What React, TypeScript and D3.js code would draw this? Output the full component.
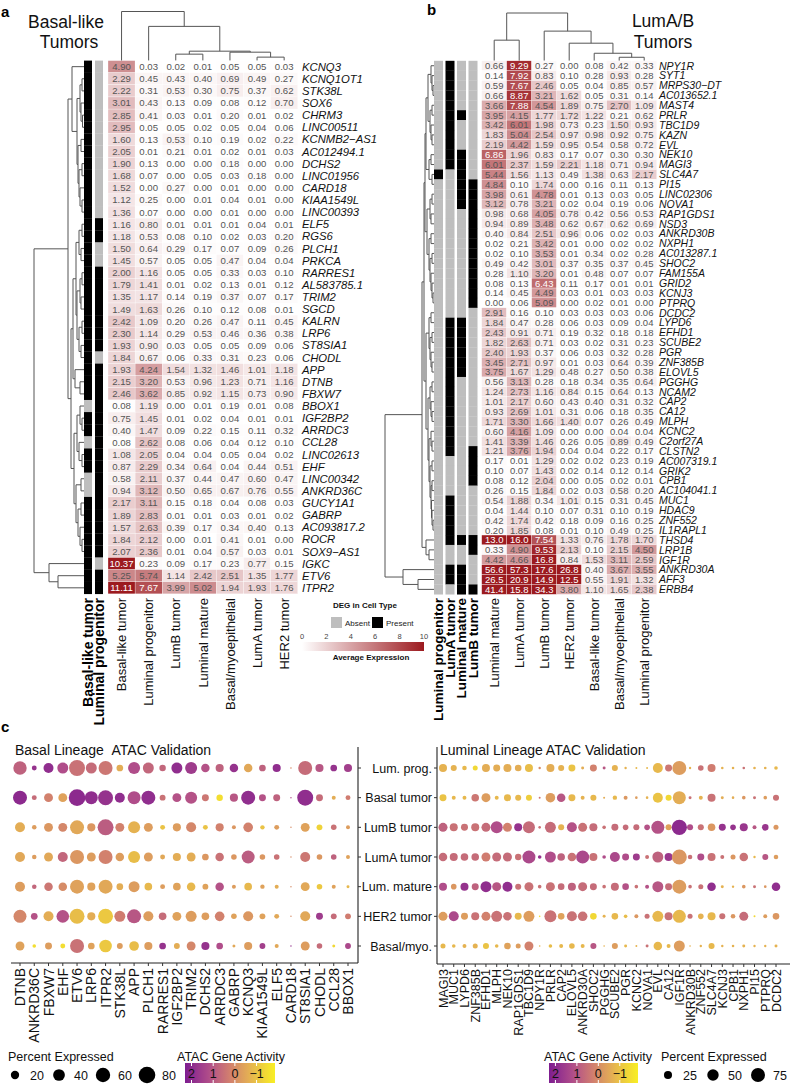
import React from "react";
import * as d3 from "d3";

const FONT = "'Liberation Sans', Arial, Helvetica, sans-serif";

// ================= Panel a : Basal-like tumors =================
const aGenes = ["KCNQ3","KCNQ1OT1","STK38L","SOX6","CHRM3","LINC00511","KCNMB2\u2212AS1","AC012494.1","DCHS2","LINC01956","CARD18","KIAA1549L","LINC00393","ELF5","RGS6","PLCH1","PRKCA","RARRES1","AL583785.1","TRIM2","SGCD","KALRN","LRP6","ST8SIA1","CHODL","APP","DTNB","FBXW7","BBOX1","IGF2BP2","ARRDC3","CCL28","LINC02613","EHF","LINC00342","ANKRD36C","GUCY1A1","GABRP","AC093817.2","ROCR","SOX9\u2212AS1","IGKC","ETV6","ITPR2"];
const aCols = ["Basal-like tumor","Luminal progenitor","LumB tumor","Luminal mature","Basal/myoepithelial","LumA tumor","HER2 tumor"];
const aVals = [
[4.90,0.03,0.02,0.01,0.05,0.05,0.03],
[2.29,0.45,0.43,0.40,0.69,0.49,0.27],
[2.22,0.31,0.53,0.30,0.75,0.37,0.62],
[3.01,0.43,0.13,0.09,0.08,0.12,0.70],
[2.85,0.41,0.03,0.01,0.20,0.01,0.02],
[2.95,0.05,0.05,0.02,0.05,0.04,0.06],
[1.60,0.13,0.53,0.10,0.19,0.02,0.22],
[2.05,0.01,0.21,0.01,0.02,0.01,0.03],
[1.90,0.13,0.00,0.00,0.18,0.00,0.00],
[1.68,0.07,0.00,0.05,0.03,0.18,0.00],
[1.52,0.00,0.27,0.00,0.01,0.00,0.00],
[1.12,0.25,0.00,0.01,0.04,0.01,0.00],
[1.36,0.07,0.00,0.00,0.01,0.00,0.00],
[1.16,0.80,0.01,0.01,0.01,0.04,0.01],
[1.18,0.53,0.08,0.10,0.02,0.03,0.20],
[1.50,0.64,0.29,0.17,0.07,0.09,0.26],
[1.45,0.57,0.05,0.05,0.47,0.04,0.04],
[2.00,1.16,0.05,0.05,0.33,0.03,0.10],
[1.79,1.41,0.01,0.02,0.13,0.01,0.12],
[1.35,1.17,0.14,0.19,0.37,0.07,0.17],
[1.49,1.63,0.26,0.10,0.12,0.08,0.01],
[2.42,1.09,0.20,0.26,0.47,0.11,0.45],
[2.30,1.14,0.29,0.53,0.46,0.36,0.38],
[1.93,0.90,0.03,0.05,0.05,0.09,0.06],
[1.84,0.67,0.06,0.33,0.31,0.23,0.06],
[1.93,4.24,1.54,1.32,1.46,1.01,1.18],
[2.15,3.20,0.53,0.96,1.23,0.71,1.16],
[2.46,3.62,0.85,0.92,1.15,0.73,0.90],
[0.08,1.19,0.00,0.01,0.19,0.01,0.08],
[0.75,1.45,0.01,0.02,0.04,0.01,0.01],
[0.40,1.47,0.09,0.22,0.15,0.11,0.32],
[0.08,2.62,0.08,0.06,0.04,0.12,0.10],
[1.08,2.05,0.04,0.04,0.05,0.04,0.02],
[0.87,2.29,0.34,0.64,0.04,0.44,0.51],
[0.58,2.11,0.37,0.44,0.47,0.60,0.47],
[0.94,3.12,0.50,0.65,0.67,0.76,0.55],
[2.17,3.11,0.15,0.18,0.04,0.08,0.03],
[1.89,2.83,0.01,0.01,0.03,0.01,0.02],
[1.57,2.63,0.39,0.17,0.34,0.40,0.13],
[1.84,2.12,0.00,0.01,0.41,0.01,0.00],
[2.07,2.36,0.01,0.04,0.57,0.03,0.01],
[10.37,0.23,0.09,0.17,0.23,0.77,0.15],
[5.25,5.74,1.14,2.42,2.51,1.35,1.77],
[11.11,7.67,3.99,5.02,1.94,1.93,1.76],
];
const aDegLabels = ["Basal-like tumor","Luminal progenitor"];
const aDegBasal   = "11111111111111111111111111110110110011111111";
const aDegLumProg = "00000000000001100111111101111111111111111011";
// merge heights of the clustering trees: [height, left, right], leaves = row/col index
const aColTree = [50, 0, [35, 1, [10, [7, 2, 3], [9, 4, [4, 5, 6]]]]];
const aRowTree = [50,
  [16,
    [12, 0, [7, [4, [2, 1, 2], [3, 3, [1.5, 4, 5]]], [6, [3, 6, 7], [5, [2, 8, 9], [4, 10, [2, 11, 12]]]]]],
    [13,
      [11, [8, [5, [2, 13, 14], [3, 15, 16]], [7, [4, [2, 17, 18], [3, 19, 20]], [5, [2, 21, 22], [3, 23, 24]]]], [9, 25, [4, 26, 27]]],
      [10, [7, [4, 28, [2, 29, 30]], [5, 31, [2, 32, 33]]], [8, [3, 34, 35], [6, [3, 36, 37], [4, 38, [2, 39, 40]]]]]]],
  [35, 41, [26, 42, 43]]];

// ================= Panel b : LumA/B tumors =================
const bGenes = ["NPY1R","SYT1","MRPS30\u2212DT","AC013652.1","MAST4","PRLR","TBC1D9","KAZN","EVL","NEK10","MAGI3","SLC4A7","PI15","LINC02306","NOVA1","RAP1GDS1","NSD3","ANKRD30B","NXPH1","AC013287.1","SHOC2","FAM155A","GRID2","KCNJ3","PTPRQ","DCDC2","LYPD6","EFHD1","SCUBE2","PGR","ZNF385B","ELOVL5","PGGHG","NCAM2","CAP2","CA12","MLPH","KCNC2","C2orf27A","CLSTN2","AC007319.1","GRIK2","CPB1","AC104041.1","MUC1","HDAC9","ZNF552","IL1RAPL1","THSD4","LRP1B","IGF1R","ANKRD30A","AFF3","ERBB4"];
const bCols = ["Luminal mature","LumA tumor","LumB tumor","HER2 tumor","Basal-like tumor","Basal/myoepithelial","Luminal progenitor"];
const bVals = [
[0.66,9.29,0.27,0.00,0.08,0.42,0.33],
[0.14,7.92,0.83,0.10,0.28,0.93,0.28],
[0.59,7.67,2.46,0.05,0.04,0.85,0.57],
[0.66,8.87,3.21,1.62,0.05,0.31,0.14],
[3.66,7.88,4.54,1.89,0.75,2.70,1.09],
[3.95,4.15,1.77,1.72,1.22,0.21,0.62],
[3.42,6.01,1.98,0.73,0.23,1.50,0.93],
[1.83,5.04,2.54,0.97,0.98,0.92,0.75],
[2.19,4.42,1.59,0.95,0.54,0.58,0.72],
[6.86,1.96,0.83,0.17,0.07,0.30,0.30],
[6.01,2.37,1.59,2.21,1.18,0.71,0.94],
[5.44,1.56,1.13,0.49,1.38,0.63,2.17],
[4.84,0.10,1.74,0.00,0.16,0.11,0.13],
[3.98,0.61,4.78,0.01,0.13,0.03,0.05],
[3.12,0.78,3.21,0.02,0.04,0.19,0.06],
[0.98,0.68,4.05,0.78,0.42,0.56,0.53],
[0.94,0.89,3.48,0.62,0.67,0.62,0.69],
[0.40,0.84,2.51,0.96,0.06,0.02,0.03],
[0.02,0.21,3.42,0.01,0.00,0.02,0.02],
[0.02,0.10,3.53,0.01,0.34,0.02,0.28],
[0.49,0.42,3.01,0.37,0.35,0.37,0.45],
[0.28,1.10,3.20,0.01,0.48,0.07,0.07],
[0.08,0.13,6.43,0.11,0.17,0.01,0.01],
[0.14,0.45,4.49,0.03,0.01,0.03,0.03],
[0.00,0.06,5.09,0.00,0.02,0.01,0.00],
[2.91,0.16,0.10,0.03,0.03,0.03,0.06],
[1.84,0.47,0.28,0.06,0.03,0.09,0.04],
[2.43,0.91,0.71,0.19,0.32,0.18,0.18],
[1.82,2.63,0.71,0.03,0.02,0.31,0.23],
[2.40,1.93,0.37,0.06,0.03,0.32,0.28],
[3.45,2.71,0.97,0.01,0.03,0.64,0.39],
[3.75,1.67,1.29,0.48,0.27,0.50,0.38],
[0.56,3.13,0.28,0.18,0.34,0.35,0.64],
[1.24,2.73,1.16,0.84,0.15,0.64,0.13],
[1.01,2.17,0.60,0.43,0.40,0.31,0.32],
[0.93,2.69,1.01,0.31,0.06,0.18,0.35],
[1.71,3.30,1.66,1.40,0.07,0.26,0.49],
[0.60,4.16,1.09,0.00,0.00,0.04,0.04],
[1.41,3.39,1.46,0.26,0.05,0.89,0.49],
[1.21,3.76,1.94,0.04,0.04,0.22,0.17],
[0.17,0.01,1.29,0.02,0.02,0.23,0.19],
[0.10,0.07,1.43,0.02,0.14,0.12,0.14],
[0.08,0.12,2.04,0.00,0.05,0.02,0.01],
[0.26,0.15,1.84,0.02,0.03,0.58,0.20],
[0.54,1.88,0.34,1.01,0.15,0.31,0.45],
[0.04,1.44,0.10,0.07,0.31,0.10,0.19],
[0.42,1.74,0.42,0.18,0.09,0.16,0.25],
[0.20,1.85,0.08,0.01,0.10,0.49,0.25],
[13.0,16.0,7.54,1.33,0.76,1.78,1.70],
[0.33,4.90,9.53,2.13,0.10,2.15,4.50],
[4.42,4.66,16.8,0.84,1.53,3.11,2.59],
[56.6,57.3,17.6,26.8,0.40,3.67,3.55],
[26.5,20.9,14.9,12.5,0.55,1.91,1.32],
[41.4,15.8,34.3,3.80,1.10,1.65,2.38],
];
const bDegLabels = ["Luminal progenitor","LumA tumor","Luminal mature","LumB tumor"];
const bDegLumProg  = "000000000001000000000000000000000000000000000000000000";
const bDegLumA     = "111111111110000000000000001111111111111100001111100110";
const bDegLumMat   = "000001000111111000000000001111110000000000000000100111";
const bDegLumB     = "000000000000111111111111100000000000000111100000110001";
const bColTree = [48, [21, 0, 1], [30, 2, [18, 3, [8, 4, [4, 5, 6]]]]];
const bRowTree = [49,
  [12,
    [10,
      [9,
        [8, [6, [3, 0, [2, 1, [1, 2, 3]]], [4, [2, 4, 5], [3, 6, [2, 7, 8]]]], [5, [3, 9, 10], [2, 11, 12]]],
        [7, [4, [2, 13, 14], [3, 15, 16]], [5, [3, 17, 18], [4, [2, 19, 20], [3, 21, [2, 22, [1, 23, 24]]]]]]],
      [8, [5, [3, 25, 26], [4, [2, 27, 28], [3, 29, [2, 30, 31]]]],
          [6, [4, [2, 32, 33], [3, 34, [2, 35, 36]]], [5, [3, 37, [2, 38, 39]], [4, [2, 40, 41], [3, [2, 42, 43], [2.5, 44, [2, 45, [1, 46, 47]]]]]]]]],
    [8, 48, [5, 49, 50]]],
  [31, 51, [16, 52, 53]]];

// ================= Panel c : ATAC dot plots =================
const groups = ["Lum. prog.","Basal tumor","LumB tumor","LumA tumor","Lum. mature","HER2 tumor","Basal/myo."];
const basalGenesC = ["DTNB","ANKRD36C","FBXW7","EHF","ETV6","LRP6","ITPR2","STK38L","APP","PLCH1","RARRES1","IGF2BP2","TRIM2","DCHS2","ARRDC3","GABRP","KCNQ3","KIAA1549L","ELF5","CARD18","ST8SIA1","CHODL","CCL28","BBOX1"];
const basalPct = [
[52,7,29,35,74,35,57,13,42,35,12,35,42,21,19,21,21,13,19,0.7,57,19,13,19],
[57,7,23,23,80,49,65,29,49,57,10,23,42,14,12,19,57,14,14,0.6,74,14,4.6,7],
[29,6,23,23,57,19,74,23,42,23,7,19,29,7,19,4.6,27,5.6,7,0.6,23,10,9,4.6],
[29,6,23,29,57,23,57,21,42,23,7,19,23,13,21,9,49,9,9,0.6,29,9,9,4.6],
[29,6,21,21,57,19,57,13,35,17,7,17,21,10,21,4.6,17,5.6,4.6,0.6,23,9,4.6,2.6],
[49,13,29,46,65,19,65,35,57,29,17,23,35,17,27,9,29,10,7,0.6,29,14,10,10],
[23,3.8,14,7,57,13,46,10,27,19,13,10,23,19,13,2.6,19,10,4.6,0.6,23,9,2.6,10],
];
const basalAct = [
[0.8,1.8,1.9,1.2,0.5,0.6,0.4,-0.6,1.2,0.7,0.7,1.9,1.6,1.1,0.8,1.8,-0.5,0.8,1.9,0,0.6,1.0,1.8,1.5],
[2.0,0.6,0.2,-0.4,2.0,1.9,1.8,1.9,1.2,1.9,0.5,1.1,1.1,0.4,-1.5,1.0,1.9,1.1,0.8,1.2,1.9,0.6,-0.6,0.3],
[-0.6,-0.3,-0.2,0.1,-0.5,-0.2,0.9,0.2,-0.7,-0.3,-1.0,-0.3,0.1,-1.0,0.2,-0.2,0.2,-1.0,-0.3,0,-0.4,-1.3,0.5,-0.3],
[-0.5,-0.3,-0.5,0.7,-0.2,-0.3,0.2,-0.3,-0.9,-0.3,-0.5,-0.6,-0.6,-0.2,0.5,-0.2,0.9,-0.2,0.5,0,0.4,-0.2,0.8,-0.4],
[-0.3,0.7,0.4,0.0,-0.4,-0.4,-0.5,-0.6,-0.3,-0.8,-0.3,-0.4,-0.8,-0.4,1.1,-0.3,-0.8,-0.4,-0.6,0,-0.5,-1.1,-0.4,-0.8],
[0.1,1.1,-0.6,1.1,-0.9,-0.6,-1.1,0.3,1.0,-0.3,0.6,-0.4,-0.3,-0.3,0.2,-0.4,-0.2,-0.4,-0.5,0,-0.5,1.6,0.6,0.3],
[-0.4,-1.5,-0.3,-1.5,0.5,-0.4,-1.1,-0.3,-0.9,-0.3,1.8,-0.6,0.1,1.8,1.2,-0.5,-0.3,1.5,-0.5,1.8,-0.3,0.6,-1.4,1.3],
];
const lumGenesC = ["MAGI3","MUC1","LYPD6","ZNF385B","EFHD1","MLPH","NEK10","RAP1GDS1","TBC1D9","NPY1R","PRLR","CAP2","ELOVL5","ANKRD30A","SHOC2","PGGHG","SCUBE2","PGR","KCNC2","NOVA1","EVL","CA12","IGF1R","ANKRD30B","ZNF552","SLC4A7","KCNJ3","CPB1","NXPH1","PI15","PTPRQ","DCDC2"];
const lumPct = [
[24.5,14,8,9.6,24.5,18.7,24.5,16.7,24.5,2.2,24.5,14,18.7,3.4,18.7,3.4,14,2.2,1.5,1.5,38,18.7,75,2.2,12,24.5,2.6,2.6,2.6,2.6,2.6,5],
[18.7,6,6,22,31,6,18.7,14,14,1.5,35,28,18.7,6,14,1.5,7.4,6,2.6,2.6,38,14,65,3.4,6,24.5,3.4,2.6,5,3.4,5,14],
[31,24.5,18.7,24.5,31,55,31,24.5,55,2.6,46,14,38,31,24.5,5,18.7,12,14,12,65,14,90,14,14,22,18.7,12,24.5,6,16.7,9.6],
[28,24.5,22,22,31,31,31,15.7,65,5,46,22,28,65,24.5,5,38,18.7,18.7,6,46,24.5,86,8,18.7,24.5,6,9.6,28,2.2,14,8],
[24.5,12,24.5,18.7,46,31,38,14,31,5,31,16.7,24.5,31,18.7,5,24.5,16.7,5,6,46,18.7,75,5,9.6,28,3.4,2.2,5,3.4,2.6,28],
[31,38,18.7,24.5,31,46,28,18.7,46,1,55,16.7,38,35,16.7,3.4,16.7,5,6,9.6,46,24.5,65,9.6,12,24.5,14,8,31,1.5,6,16.7],
[9.6,5,6,9.6,14,5,16.7,9.6,31,1,5,6,12,6,14,1,14,3.4,1.5,3.4,28,6,46,1,2.2,14,2.2,2.6,3.4,2.2,2.2,3.4],
];
const lumAct = [
[-0.7,-0.7,-0.8,-1.4,-0.6,-0.6,-0.6,-0.6,-0.9,0.0,-0.6,-0.7,-1.0,-0.6,0.2,1.0,-0.7,-0.7,-0.8,-0.8,-0.8,0.4,-0.3,-0.7,0.5,0.3,-0.7,-0.7,0.5,-0.7,-0.7,-0.8],
[-1.0,-0.8,-0.8,0.4,-0.3,-0.8,-0.8,-0.8,-1.2,0.4,-0.3,1.0,-0.8,-0.7,-0.8,-0.6,-0.8,-0.2,-0.3,-0.7,-1.0,-1.4,-0.6,0.5,-0.7,0.5,-0.6,-0.6,-0.2,0.5,-0.3,0.5],
[0.8,0.5,0.5,0.5,0.6,1.2,0.2,1.8,0.6,0.5,0.6,-0.7,1.1,0.5,0.6,0.5,0.6,0.6,0.6,1.1,1.1,-0.4,2.0,1.2,0.5,-0.2,1.8,1.8,1.7,1.0,1.7,-0.2],
[0.6,0.6,0.6,0.6,0.3,0.6,0.6,0.5,1.3,1.8,1.2,0.8,0.5,1.3,0.5,1.2,1.3,1.2,1.6,0.5,0.8,1.7,-0.2,0.5,1.2,0.5,0.5,-0.2,0.5,-0.8,1.0,-0.3],
[1.2,-0.2,1.8,0.8,1.9,1.0,1.9,0.5,0.5,0.5,0.5,0.6,0.8,0.6,0.6,0.5,0.6,1.1,0.5,1.1,1.0,0.6,-0.3,0.5,0.5,1.9,-0.7,-0.7,-0.2,0.5,-0.2,1.9],
[-0.3,1.3,-0.3,0.5,0.2,0.5,0.5,-0.8,-0.3,-1.5,0.5,-0.4,0.5,0.5,-1.4,-0.7,-0.8,-0.9,-0.2,0.5,-0.8,0.5,-0.8,0.5,-0.7,-0.8,0.5,-0.2,0.6,-1.4,-0.3,-0.2],
[-0.8,-0.8,-0.7,-0.7,-1.0,-0.8,-0.4,-0.3,0.2,-0.7,-0.9,-0.8,-0.8,-0.8,1.0,-0.7,-0.3,-0.8,-0.7,0.5,-0.8,-0.8,-0.3,-0.7,-0.7,-0.8,-0.7,-0.7,-0.7,-0.7,-0.7,-0.7],
];
const actTicks = [2, 1, 0, -1];
const basalSizeBreaks = [20, 40, 60, 80];
const lumSizeBreaks = [25, 50, 75];
const exprTicks = [0, 2, 4, 6, 8, 10];

// ================= helpers =================
const heatColor = d3.scaleLinear<string>().domain([0, 10]).range(["#ffffff", "#9c1a1f"]).clamp(true).interpolate(d3.interpolateRgb);
const actColor = d3.scaleLinear<string>().domain([2.3, 1.2, 0.3, -0.6, -1.8])
  .range(["#7e1d90", "#b04d8a", "#d07c70", "#e3ad55", "#f8ee25"]).clamp(true);

function dendroSegs(tree: any, leafPos: (i: number) => number, hs: (h: number) => number, orient: string) {
  const segs: number[][] = [];
  const rec = (n: any): { p: number; h: number } => {
    if (typeof n === "number") return { p: leafPos(n), h: 0 };
    const [h, l, r] = n;
    const a = rec(l), b = rec(r);
    const hn = hs(h);
    if (orient === "row") {
      segs.push([hn, a.p, hn, b.p], [hn, a.p, hs(a.h), a.p], [hn, b.p, hs(b.h), b.p]);
    } else {
      segs.push([a.p, hn, b.p, hn], [a.p, hn, a.p, hs(a.h)], [b.p, hn, b.p, hs(b.h)]);
    }
    return { p: (a.p + b.p) / 2, h };
  };
  rec(tree);
  return segs;
}

function Segs({ segs }: { segs: number[][] }) {
  const p = d3.path();
  segs.forEach(([x1, y1, x2, y2]) => { p.moveTo(x1, y1); p.lineTo(x2, y2); });
  return <path d={p.toString()} stroke="#555" strokeWidth={1} fill="none" />;
}

function Heatmap(props: any) {
  const { genes, cols, vals, x0, cw, y0, rh, fmt, labelX, geneSize, numSize, degCols, degLabels, degX, degW,
    colTree, rowTree, colTreeTop, rowTreeLeft, colLabelY, degLabelSize } = props;
  const xs = d3.scaleBand<number>().domain(d3.range(cols.length)).range([x0, x0 + cw * cols.length]);
  const ys = d3.scaleBand<number>().domain(d3.range(genes.length)).range([y0, y0 + rh * genes.length]);
  const colH = d3.scaleLinear().domain([0, colTree[0]]).range([y0 + 0.5, colTreeTop]);
  const rowH = d3.scaleLinear().domain([0, rowTree[0]]).range([degX[0], rowTreeLeft]);
  const cSegs = dendroSegs(colTree, (i) => (xs(i) as number) + cw / 2, colH, "col");
  const rSegs = dendroSegs(rowTree, (i) => (ys(i) as number) + rh / 2, rowH, "row");
  return (
    <g>
      <Segs segs={cSegs} />
      <Segs segs={rSegs} />
      {degCols.map((s: string, k: number) => (
        <g key={"d" + k}>
          {s.split("").map((c, i) => (
            <rect key={i} x={degX[k]} y={ys(i)} width={degW} height={rh + 0.2} fill={c === "1" ? "#000" : "#bebebe"} />
          ))}
          <text transform={`translate(${degX[k] + degW / 2},${colLabelY}) rotate(-90)`} textAnchor="end" dy="0.36em"
            fontWeight="bold" fontSize={degLabelSize} fill="#000">{degLabels[k]}</text>
        </g>
      ))}
      {vals.map((row: number[], i: number) => row.map((v, j) => (
        <g key={i + "-" + j}>
          <rect x={xs(j)} y={ys(i)} width={cw} height={rh} fill={heatColor(v)} stroke="#fff" strokeWidth={0.3} />
          <text x={(xs(j) as number) + cw / 2} y={(ys(i) as number) + rh / 2} dy="0.36em" textAnchor="middle"
            fontSize={numSize} fill={v >= 6.4 ? "#fff" : "#555"}>{fmt(v)}</text>
        </g>
      )))}
      {genes.map((g: string, i: number) => (
        <text key={g} x={labelX} y={(ys(i) as number) + rh / 2} dy="0.36em" fontStyle="italic" fontSize={geneSize} fill="#111">{g}</text>
      ))}
      {cols.map((c: string, j: number) => (
        <text key={c} transform={`translate(${(xs(j) as number) + cw / 2},${colLabelY}) rotate(-90)`} textAnchor="end" dy="0.36em"
          fontSize={13} fill="#111">{c}</text>
      ))}
    </g>
  );
}

function DotPlot(props: any) {
  const { genes, pct, act, x0, x1, rowY0, rowY1, maxPct, maxR, labelSize, axisX, axisTop, axisY, lineX0, lineX1, tickDir } = props;
  const xs = d3.scalePoint<number>().domain(d3.range(genes.length)).range([x0, x1]);
  const ys = d3.scalePoint<number>().domain(d3.range(groups.length)).range([rowY0, rowY1]);
  const rs = d3.scaleSqrt().domain([0, maxPct]).range([0, maxR]);
  return (
    <g>
      <line x1={axisX} x2={axisX} y1={axisTop} y2={axisY} stroke="#222" strokeWidth={1.1} />
      <line x1={lineX0} x2={lineX1} y1={axisY} y2={axisY} stroke="#222" strokeWidth={1.1} />
      {groups.map((g, i) => (
        <line key={g} x1={axisX} x2={axisX + tickDir * 3} y1={ys(i)} y2={ys(i)} stroke="#333" />
      ))}
      {genes.map((g: string, j: number) => (
        <g key={g}>
          <line x1={xs(j)} x2={xs(j)} y1={axisY} y2={axisY + 3} stroke="#333" />
          <text transform={`translate(${xs(j)},${axisY + 5}) rotate(-90)`} textAnchor="end" dy="0.36em" fontSize={labelSize} fill="#111">{g}</text>
        </g>
      ))}
      {pct.map((row: number[], i: number) => row.map((p, j) => (
        <circle key={i + "-" + j} cx={xs(j)} cy={ys(i)} r={rs(p)} fill={actColor(act[i][j])} />
      )))}
    </g>
  );
}

function ActLegend({ x, y, x0, x1, id }: any) {
  const s = d3.scaleLinear().domain([2.3, -1.85]).range([x0, x1]);
  const stops = d3.range(0, 1.0001, 0.05);
  return (
    <g>
      <defs>
        <linearGradient id={id} x1="0" x2="1" y1="0" y2="0">
          {stops.map((t) => <stop key={t} offset={t} stopColor={actColor(s.invert(x0 + t * (x1 - x0)))} />)}
        </linearGradient>
      </defs>
      <text x={x} y={y} fontSize={12.5} fill="#111">ATAC Gene Activity</text>
      <rect x={x0} y={y + 2} width={x1 - x0} height={20} fill={`url(#${id})`} />
      {actTicks.map((t) => (
        <g key={t}>
          <line x1={s(t)} x2={s(t)} y1={y + 2} y2={y + 5} stroke="#fff" />
          <line x1={s(t)} x2={s(t)} y1={y + 19} y2={y + 22} stroke="#fff" />
          <text x={s(t)} y={y + 12} dy="0.36em" textAnchor="middle" fontSize={12.5} fill="#111">{t < 0 ? "\u2212" + Math.abs(t) : t}</text>
        </g>
      ))}
    </g>
  );
}

function SizeLegend({ x, y, breaks, maxPct, maxR, step, x0 }: any) {
  const rs = d3.scaleSqrt().domain([0, maxPct]).range([0, maxR]);
  return (
    <g>
      <text x={x} y={y} fontSize={12.5} fill="#111">Percent Expressed</text>
      {breaks.map((b: number, i: number) => (
        <g key={b}>
          <circle cx={x0 + i * step} cy={y + 14} r={rs(b)} fill="#000" />
          <text x={x0 + i * step + 15} y={y + 14} dy="0.36em" fontSize={12.5} fill="#111">{b}</text>
        </g>
      ))}
    </g>
  );
}

export default function App() {
  const exprScale = d3.scaleLinear().domain([0, 10]).range([302, 424]);
  return (
    <div style={{ position: "absolute", left: 0, top: 0 }}>
      <svg width={790} height={1086} fontFamily={FONT} style={{ display: "block" }}>
        <rect width={790} height={1086} fill="#fff" />
        {/* panel letters and titles */}
        <text x={1} y={17} fontSize={15} fontWeight="bold">a</text>
        <text x={427} y={15} fontSize={15} fontWeight="bold">b</text>
        <text x={1} y={732} fontSize={15} fontWeight="bold">c</text>
        <text x={66} y={28} fontSize={17.5} textAnchor="middle" fill="#111">Basal-like</text>
        <text x={69} y={48} fontSize={17.5} textAnchor="middle" fill="#111">Tumors</text>
        <text x={663} y={27} fontSize={17.5} textAnchor="middle" fill="#111">LumA/B</text>
        <text x={663} y={48} fontSize={17.5} textAnchor="middle" fill="#111">Tumors</text>

        <Heatmap genes={aGenes} cols={aCols} vals={aVals} x0={108} cw={27.1} y0={60.6} rh={12.12}
          fmt={(v: number) => v.toFixed(2)} labelX={302} geneSize={11.3} numSize={9.6}
          degCols={[aDegBasal, aDegLumProg]} degLabels={aDegLabels} degX={[84, 95]} degW={8}
          colTree={aColTree} rowTree={aRowTree} colTreeTop={11.5} rowTreeLeft={34} colLabelY={598} degLabelSize={14} />
        <Heatmap genes={bGenes} cols={bCols} vals={bVals} x0={481.7} cw={25} y0={60.8} rh={9.88}
          fmt={(v: number) => (v >= 10 ? v.toFixed(1) : v.toFixed(2))} labelX={659} geneSize={10.5} numSize={9.5}
          degCols={[bDegLumProg, bDegLumA, bDegLumMat, bDegLumB]} degLabels={bDegLabels} degX={[434, 445.5, 457, 468.5]} degW={9}
          colTree={bColTree} rowTree={bRowTree} colTreeTop={13} rowTreeLeft={385} colLabelY={598} degLabelSize={13.5} />

        {/* heatmap legend */}
        <text x={333} y={608} fontSize={8} fontWeight="bold" fill="#111">DEG in Cell Type</text>
        <rect x={331} y={617} width={11} height={11} fill="#bebebe" />
        <text x={345} y={625.5} fontSize={8} fill="#222">Absent</text>
        <rect x={372} y={617} width={11} height={11} fill="#000" />
        <text x={386} y={625.5} fontSize={8} fill="#222">Present</text>
        <defs>
          <linearGradient id="exprGrad" x1="0" x2="1" y1="0" y2="0">
            {exprTicks.map((t) => <stop key={t} offset={t / 10} stopColor={heatColor(t)} />)}
          </linearGradient>
        </defs>
        <rect x={exprScale(0)} y={642} width={exprScale(10) - exprScale(0)} height={9} fill="url(#exprGrad)" />
        {exprTicks.map((t) => (
          <text key={t} x={exprScale(t)} y={639} textAnchor="middle" fontSize={7.5} fill="#444">{t}</text>
        ))}
        <text x={371} y={660} fontSize={8} fontWeight="bold" textAnchor="middle" fill="#111">Average Expression</text>

        {/* panel c */}
        <text x={15} y={755} fontSize={14} fill="#111">{"Basal Lineage\u00a0\u00a0ATAC Validation"}</text>
        <text x={440} y={755} fontSize={14} fill="#111">Luminal Lineage ATAC Validation</text>
        <DotPlot genes={basalGenesC} pct={basalPct} act={basalAct} x0={20} x1={348} rowY0={768} rowY1={946}
          maxPct={80} maxR={8.3} labelSize={14} axisX={358} axisTop={747} axisY={963} lineX0={11} lineX1={358} tickDir={1} />
        <DotPlot genes={lumGenesC} pct={lumPct} act={lumAct} x0={443} x1={776} rowY0={768} rowY1={946}
          maxPct={75} maxR={7} labelSize={12.5} axisX={437} axisTop={747} axisY={964} lineX0={437} lineX1={790} tickDir={-1} />
        {groups.map((g, i) => (
          <text key={g} x={432} y={d3.scalePoint<number>().domain(d3.range(groups.length)).range([768, 946])(i)} dy="0.36em"
            textAnchor="end" fontSize={12.5} fill="#111">{g}</text>
        ))}

        <SizeLegend x={8} y={1061} breaks={basalSizeBreaks} maxPct={80} maxR={8.3} step={44} x0={15} />
        <ActLegend x={177} y={1061} x0={185} x1={275} id="actL" />
        <ActLegend x={544} y={1061} x0={549} x1={638} id="actR" />
        <SizeLegend x={661} y={1061} breaks={lumSizeBreaks} maxPct={75} maxR={7} step={45} x0={668} />
      </svg>
    </div>
  );
}
